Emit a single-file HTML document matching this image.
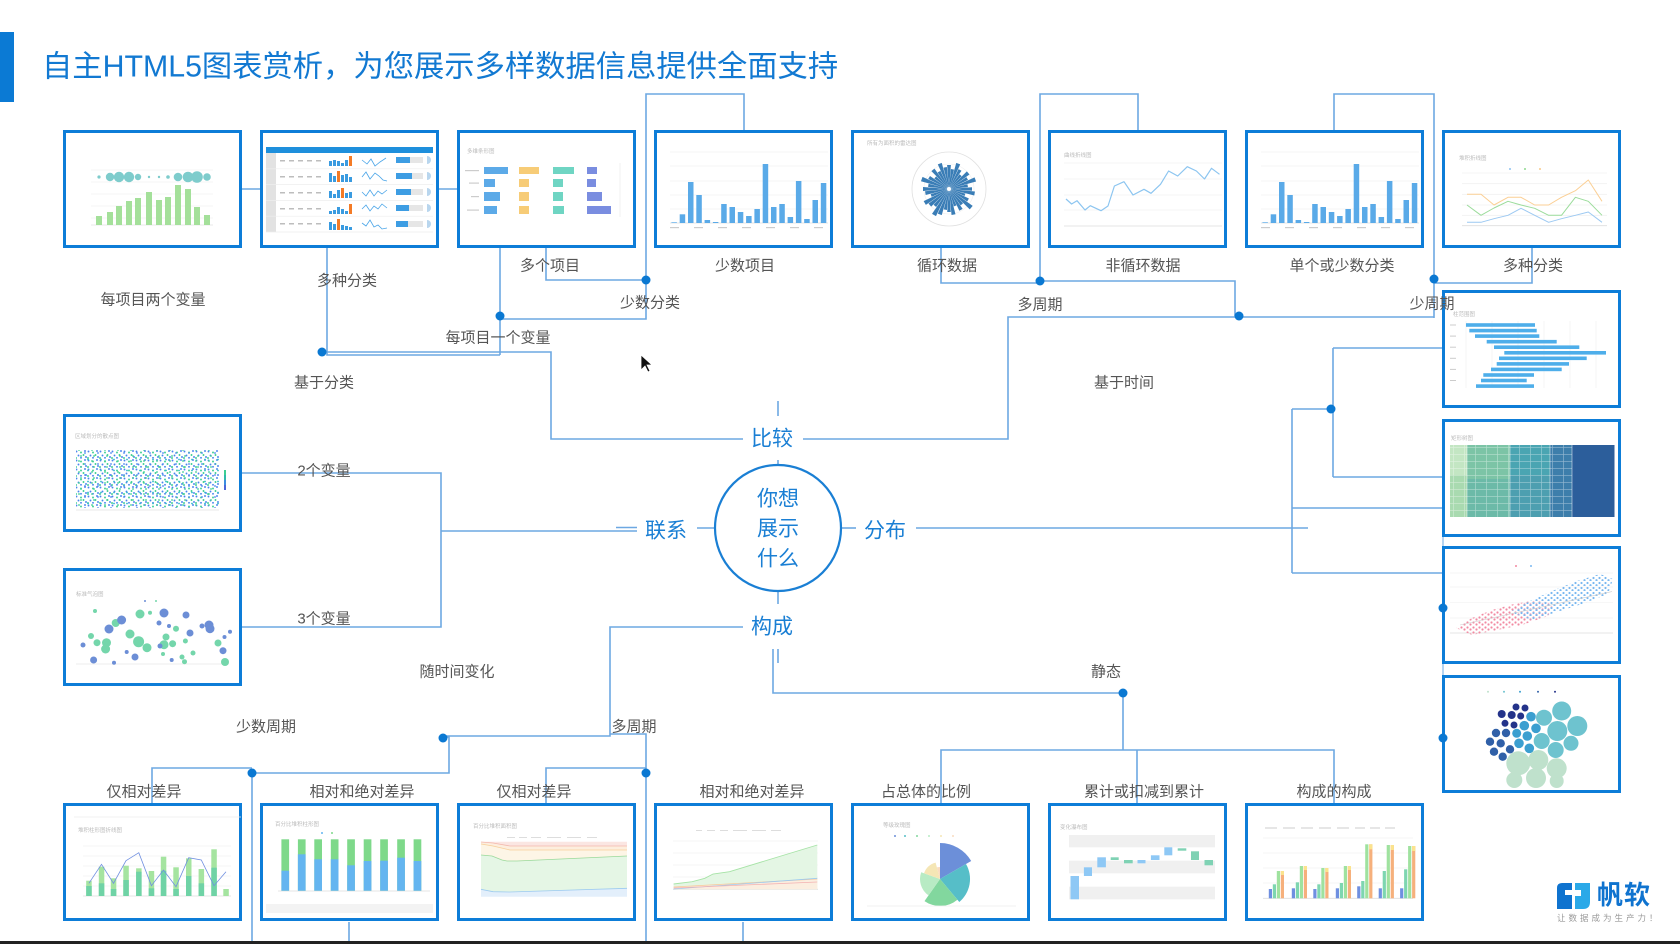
<!DOCTYPE html>
<html><head><meta charset="utf-8">
<style>
html,body{margin:0;padding:0;background:#fff;}
svg{display:block;}
text{font-family:"Liberation Sans","Noto Sans CJK SC",sans-serif;}
</style></head><body>
<svg width="1680" height="944" viewBox="0 0 1680 944" xmlns="http://www.w3.org/2000/svg">
<defs>
<pattern id="sc1" width="12" height="9" patternUnits="userSpaceOnUse">
<circle cx="1.5" cy="1.5" r="0.95" fill="#4a86ee"/><circle cx="6" cy="2.5" r="0.95" fill="#3dcf92"/><circle cx="10" cy="1" r="0.95" fill="#4a86ee"/><circle cx="3.5" cy="5.5" r="0.95" fill="#4a86ee"/><circle cx="8.5" cy="5" r="0.95" fill="#3dcf92"/><circle cx="1" cy="8" r="0.95" fill="#3dcf92"/><circle cx="6" cy="7.8" r="0.95" fill="#4a86ee"/><circle cx="11" cy="7" r="0.95" fill="#4a86ee"/>
</pattern>
<pattern id="sc2" width="13" height="11" patternUnits="userSpaceOnUse">
<circle cx="3" cy="3" r="0.9" fill="#3dcf92"/><circle cx="9" cy="6" r="0.9" fill="#4a86ee"/><circle cx="5" cy="9" r="0.9" fill="#3dcf92"/><circle cx="12" cy="1.5" r="0.9" fill="#2fb9c9"/>
</pattern>
<pattern id="pk" width="6" height="5" patternUnits="userSpaceOnUse">
<circle cx="1.5" cy="1.5" r="1.1" fill="#f28aa2"/><circle cx="4.5" cy="3.5" r="1.1" fill="#f28aa2"/>
</pattern>
<pattern id="bl" width="6" height="5" patternUnits="userSpaceOnUse">
<circle cx="1.5" cy="2" r="1.1" fill="#7ab8f0"/><circle cx="4.5" cy="4.2" r="1.1" fill="#7ab8f0"/>
</pattern>
<pattern id="tg" width="11" height="7" patternUnits="userSpaceOnUse">
<path d="M0,0.3H11M0.3,0V7" stroke="#ffffff" stroke-opacity="0.45" stroke-width="0.7" fill="none"/>
</pattern>
</defs>
<rect width="1680" height="944" fill="#fff"/>

<!-- Title -->
<rect x="0" y="32" width="14" height="70" fill="#0b7ad4"/>
<text x="42" y="67" font-size="30.3" fill="#1279d2" dominant-baseline="central">自主HTML5图表赏析，为您展示多样数据信息提供全面支持</text>

<!-- Connectors -->
<g fill="none" stroke="#6da8e2" stroke-width="1.6">
<path d="M242,189H260M439,189H457"/>
<path d="M327,248V355H500"/>
<path d="M500,248V355"/>
<path d="M546,248V280H646"/>
<path d="M744,130V94H646V319H500"/>
<path d="M322,352H551V439H743"/>
<path d="M941,248V283H1040"/>
<path d="M1138,130V94H1040V281H1235V316"/>
<path d="M803,439H1008V317H1434"/>
<path d="M1334,130V94H1434V318"/>
<path d="M1532,248V283H1434"/>
<path d="M778,401V416M778,460V465"/>
<path d="M715,528H697"/>
<path d="M441,531H637M616,527.5H637"/>
<path d="M841,528H856"/>
<path d="M916,528H1308"/>
<path d="M778,591V604"/>
<path d="M743,627H610V736H443"/>
<path d="M610,734H646V944"/>
<path d="M773,649V693H1123V750M778,649V663"/>
<path d="M941,803V750H1334V803M1137,750V803"/>
<path d="M242,473H441V627H242"/>
<path d="M443,737H449V773H252V944"/>
<path d="M152,803V768H252"/>
<path d="M546,803V768H646"/>
<path d="M349,922V944M743,922V944"/>
<path d="M1333,348V477M1333,348H1442M1333,477H1442"/>
<path d="M1292,409H1333M1292,409V573M1292,508H1442M1292,573H1442"/>
<path d="M1443,537V546M1443,663V675" stroke-width="1"/>
</g>
<g fill="#0a78d2">
<circle cx="646" cy="280" r="4.5"/><circle cx="500" cy="316" r="4.5"/><circle cx="322" cy="352" r="4.5"/>
<circle cx="1040" cy="281" r="4.5"/><circle cx="1239" cy="316" r="4.5"/><circle cx="1434" cy="279" r="4.5"/>
<circle cx="1123" cy="693" r="4.5"/><circle cx="443" cy="738" r="4.5"/><circle cx="252" cy="773" r="4.5"/>
<circle cx="646" cy="773" r="4.5"/><circle cx="1331" cy="409" r="4.5"/>
</g>

<!-- Center circle -->
<circle cx="778" cy="528" r="63" fill="#fff" stroke="#1a7fd4" stroke-width="2.2"/>
<g font-size="21" fill="#1a7fd4" text-anchor="middle" dominant-baseline="central">
<text x="778" y="499">你想</text><text x="778" y="529">展示</text><text x="778" y="559">什么</text>
<text x="772" y="439">比较</text><text x="666" y="531">联系</text><text x="885" y="531">分布</text><text x="772" y="627">构成</text>
</g>

<!-- ===== Thumbnails ===== -->
<g id="boxes">
<!-- T1 -->
<g transform="translate(63,130)">
<rect x="1.5" y="1.5" width="176" height="115" fill="#fff" stroke="#0d7dd8" stroke-width="3"/>
<g stroke="#f1f1f1" stroke-width="0.8"><path d="M28,40H150M28,52H150M28,64H150M28,76H150M28,88H150"/></g>
<path d="M28,95H150" stroke="#e0e0e0" stroke-width="0.8"/>
<g fill="#7ecccc"><circle cx="36" cy="47" r="1.6"/><circle cx="47" cy="47" r="4.2"/><circle cx="56" cy="47" r="5.2"/><circle cx="66" cy="47" r="5.2"/><circle cx="75" cy="47" r="3.2"/><circle cx="86" cy="47" r="1.2"/><circle cx="96" cy="47" r="1.2"/><circle cx="105" cy="47" r="1.8"/><circle cx="115" cy="47" r="4.3"/><circle cx="125" cy="47" r="5.3"/><circle cx="134" cy="47" r="5.8"/><circle cx="144" cy="47" r="3.8"/></g>
<g fill="#a4e09a"><rect x="33" y="86" width="6" height="9"/><rect x="44" y="82" width="6" height="13"/><rect x="53" y="76" width="6" height="19"/><rect x="63" y="71" width="6" height="24"/><rect x="72" y="68" width="6" height="27"/><rect x="83" y="62" width="6" height="33"/><rect x="93" y="70" width="6" height="25"/><rect x="102" y="67" width="6" height="28"/><rect x="112" y="55" width="6" height="40"/><rect x="122" y="59" width="6" height="36"/><rect x="131" y="77" width="6" height="18"/><rect x="141" y="85" width="6" height="10"/></g>
</g>
<!-- T2 table -->
<g transform="translate(260,130)">
<rect x="1.5" y="1.5" width="176" height="115" fill="#fff" stroke="#0d7dd8" stroke-width="3"/>
<rect x="6" y="17" width="167" height="6" fill="#1e8fdc"/>
<rect x="6" y="23" width="10" height="79" fill="#e2e2e2"/>
<g stroke="#eee" stroke-width="0.7"><path d="M6,38.8H173M6,54.6H173M6,70.4H173M6,86.2H173M6,102H173"/></g>
<g fill="#bdbdbd">
<path d="M20,30h5v1.5h-5zM29,30h5v1.5h-5zM38,30h5v1.5h-5zM47,30h5v1.5h-5zM56,30h5v1.5h-5zM20,46h5v1.5h-5zM29,46h5v1.5h-5zM38,46h5v1.5h-5zM47,46h5v1.5h-5zM56,46h5v1.5h-5zM20,62h5v1.5h-5zM29,62h5v1.5h-5zM38,62h5v1.5h-5zM47,62h5v1.5h-5zM56,62h5v1.5h-5zM20,78h5v1.5h-5zM29,78h5v1.5h-5zM38,78h5v1.5h-5zM47,78h5v1.5h-5zM56,78h5v1.5h-5zM20,93h5v1.5h-5zM29,93h5v1.5h-5zM38,93h5v1.5h-5zM47,93h5v1.5h-5zM56,93h5v1.5h-5z"/>
</g>
<g fill="#3a9be0">
<rect x="69" y="31" width="3" height="5"/><rect x="73" y="30" width="3" height="6"/><rect x="77" y="31" width="3" height="5"/><rect x="81" y="33" width="3" height="3"/><rect x="85" y="30" width="3" height="6"/>
<rect x="69" y="43" width="3" height="9"/><rect x="73" y="46" width="3" height="6"/><rect x="81" y="45" width="3" height="7"/><rect x="85" y="44" width="3" height="8"/><rect x="89" y="47" width="3" height="5"/>
<rect x="69" y="61" width="3" height="7"/><rect x="73" y="64" width="3" height="4"/><rect x="77" y="60" width="3" height="8"/><rect x="85" y="63" width="3" height="5"/><rect x="89" y="62" width="3" height="6"/>
<rect x="69" y="81" width="3" height="3"/><rect x="73" y="80" width="3" height="4"/><rect x="77" y="77" width="3" height="7"/><rect x="81" y="79" width="3" height="5"/><rect x="85" y="81" width="3" height="3"/>
<rect x="69" y="92" width="3" height="8"/><rect x="73" y="94" width="3" height="6"/><rect x="81" y="95" width="3" height="5"/><rect x="85" y="96" width="3" height="4"/><rect x="89" y="97" width="3" height="3"/>
</g>
<g fill="#f47b26"><rect x="89" y="26" width="3" height="10"/><rect x="77" y="41" width="3" height="11"/><rect x="81" y="58" width="3" height="10"/><rect x="89" y="74" width="3" height="10"/><rect x="77" y="89" width="3" height="11"/></g>
<g fill="none" stroke="#4aa5e8" stroke-width="0.8">
<polyline points="102,30 107,34 111,29 115,36 120,32 126,28"/>
<polyline points="102,47 106,42 110,49 115,43 119,46 123,50 127,51"/>
<polyline points="102,62 106,66 110,60 114,66 118,61 122,64 127,60"/>
<polyline points="102,79 106,75 110,81 114,76 118,79 122,74 127,78"/>
<polyline points="102,93 106,96 110,90 114,97 118,95 122,99 127,98"/>
</g>
<g fill="#e6e6e6"><rect x="136" y="27" width="27" height="6"/><rect x="136" y="43" width="27" height="6"/><rect x="136" y="59" width="27" height="6"/><rect x="136" y="75" width="27" height="6"/><rect x="136" y="91" width="27" height="6"/></g>
<g fill="#3d9de3"><rect x="136" y="27" width="14" height="6"/><rect x="136" y="43" width="16" height="6"/><rect x="136" y="59" width="15" height="6"/><rect x="136" y="75" width="13" height="6"/><rect x="136" y="91" width="12" height="6"/></g>
<g fill="#b9d6ee"><path d="M167,26a4,4 0 0 1 0,8z"/><path d="M167,42a4,4 0 0 1 0,8z"/><path d="M167,58a4,4 0 0 1 0,8z"/><path d="M167,74a4,4 0 0 1 0,8z"/><path d="M167,90a4,4 0 0 1 0,8z"/></g>
</g>
<!-- T3 -->
<g transform="translate(457,130)">
<rect x="1.5" y="1.5" width="176" height="115" fill="#fff" stroke="#0d7dd8" stroke-width="3"/>
<text x="10" y="22" font-size="5.5" fill="#bbb" dominant-baseline="central">多维条形图</text>
<path d="M163,33V87" stroke="#eee" stroke-width="0.8"/>
<g fill="#5caae8"><rect x="27" y="37" width="24" height="7"/><rect x="27" y="49" width="11" height="8"/><rect x="27" y="62" width="16" height="9"/><rect x="27" y="76" width="13" height="8"/></g>
<g fill="#f7cc77"><rect x="62" y="37" width="20" height="7"/><rect x="62" y="49" width="10" height="8"/><rect x="62" y="62" width="10" height="9"/><rect x="62" y="76" width="10" height="8"/></g>
<g fill="#6fd5c3"><rect x="96" y="37" width="21" height="7"/><rect x="96" y="49" width="10" height="8"/><rect x="96" y="62" width="10" height="9"/><rect x="96" y="76" width="11" height="8"/></g>
<g fill="#7a8de0"><rect x="130" y="37" width="10" height="7"/><rect x="130" y="49" width="9" height="8"/><rect x="130" y="62" width="15" height="9"/><rect x="130" y="76" width="24" height="8"/></g>
<g fill="#ccc"><rect x="8" y="40" width="14" height="1.2"/><rect x="12" y="52.5" width="10" height="1.2"/><rect x="14" y="66" width="8" height="1.2"/><rect x="10" y="79.5" width="12" height="1.2"/></g>
</g>
<!-- T4 & T7 bar charts -->
<g transform="translate(654,130)">
<rect x="1.5" y="1.5" width="176" height="115" fill="#fff" stroke="#0d7dd8" stroke-width="3"/>
<g stroke="#f1f1f1" stroke-width="0.8"><path d="M16,22H174M16,36H174M16,51H174M16,65H174M16,79H174"/></g>
<path d="M16,93H174" stroke="#ddd" stroke-width="0.8"/>
<g fill="#5aaae8"><rect x="17.4" y="92.3" width="5.5" height="0.7"/><rect x="25.7" y="84.3" width="5.5" height="8.7"/><rect x="34" y="52" width="5.5" height="41"/><rect x="42.3" y="65" width="5.5" height="28"/><rect x="50.6" y="90" width="5.5" height="3"/><rect x="58.9" y="92" width="5.5" height="1"/><rect x="67.2" y="74" width="5.5" height="19"/><rect x="75.5" y="77" width="5.5" height="16"/><rect x="83.8" y="82" width="5.5" height="11"/><rect x="92.1" y="86" width="5.5" height="7"/><rect x="100.4" y="79" width="5.5" height="14"/><rect x="108.7" y="34" width="5.5" height="59"/><rect x="117" y="77" width="5.5" height="16"/><rect x="125.3" y="74" width="5.5" height="19"/><rect x="133.6" y="87" width="5.5" height="6"/><rect x="141.9" y="51" width="5.5" height="42"/><rect x="150.2" y="89" width="5.5" height="4"/><rect x="158.5" y="70" width="5.5" height="23"/><rect x="166.8" y="53" width="5.5" height="40"/></g>
<g fill="#ccc"><rect x="16" y="97" width="9" height="1.2"/><rect x="40" y="97" width="9" height="1.2"/><rect x="64" y="97" width="9" height="1.2"/><rect x="88" y="97" width="9" height="1.2"/><rect x="112" y="97" width="9" height="1.2"/><rect x="136" y="97" width="9" height="1.2"/><rect x="160" y="97" width="9" height="1.2"/></g>
</g>
<g transform="translate(1245,130)">
<rect x="1.5" y="1.5" width="176" height="115" fill="#fff" stroke="#0d7dd8" stroke-width="3"/>
<g stroke="#f1f1f1" stroke-width="0.8"><path d="M16,22H174M16,36H174M16,51H174M16,65H174M16,79H174"/></g>
<path d="M16,93H174" stroke="#ddd" stroke-width="0.8"/>
<g fill="#5aaae8"><rect x="17.4" y="92.3" width="5.5" height="0.7"/><rect x="25.7" y="84.3" width="5.5" height="8.7"/><rect x="34" y="52" width="5.5" height="41"/><rect x="42.3" y="65" width="5.5" height="28"/><rect x="50.6" y="90" width="5.5" height="3"/><rect x="58.9" y="92" width="5.5" height="1"/><rect x="67.2" y="74" width="5.5" height="19"/><rect x="75.5" y="77" width="5.5" height="16"/><rect x="83.8" y="82" width="5.5" height="11"/><rect x="92.1" y="86" width="5.5" height="7"/><rect x="100.4" y="79" width="5.5" height="14"/><rect x="108.7" y="34" width="5.5" height="59"/><rect x="117" y="77" width="5.5" height="16"/><rect x="125.3" y="74" width="5.5" height="19"/><rect x="133.6" y="87" width="5.5" height="6"/><rect x="141.9" y="51" width="5.5" height="42"/><rect x="150.2" y="89" width="5.5" height="4"/><rect x="158.5" y="70" width="5.5" height="23"/><rect x="166.8" y="53" width="5.5" height="40"/></g>
<g fill="#ccc"><rect x="16" y="97" width="9" height="1.2"/><rect x="40" y="97" width="9" height="1.2"/><rect x="64" y="97" width="9" height="1.2"/><rect x="88" y="97" width="9" height="1.2"/><rect x="112" y="97" width="9" height="1.2"/><rect x="136" y="97" width="9" height="1.2"/><rect x="160" y="97" width="9" height="1.2"/></g>
</g>
<!-- T5 polar -->
<g transform="translate(851,130)">
<rect x="1.5" y="1.5" width="176" height="115" fill="#fff" stroke="#0d7dd8" stroke-width="3"/>
<text x="16" y="14" font-size="5.5" fill="#bbb" dominant-baseline="central">所有为面积的雷达图</text>
<g transform="translate(98,59)">
<circle r="37" fill="none" stroke="#e0e0e0" stroke-width="0.8"/>
<circle r="25" fill="none" stroke="#eee" stroke-width="0.6"/>
<g fill="#3a7db6">
<polygon points="0,0 -1.9,-24 1.9,-24" transform="rotate(0)"/>
<polygon points="0,0 -1.6,-20 1.6,-20" transform="rotate(10)"/>
<polygon points="0,0 -2.1,-27 2.1,-27" transform="rotate(20)"/>
<polygon points="0,0 -1.7,-22 1.7,-22" transform="rotate(30)"/>
<polygon points="0,0 -1.4,-18 1.4,-18" transform="rotate(40)"/>
<polygon points="0,0 -2,-25 2,-25" transform="rotate(50)"/>
<polygon points="0,0 -1.6,-21 1.6,-21" transform="rotate(60)"/>
<polygon points="0,0 -2.2,-28 2.2,-28" transform="rotate(70)"/>
<polygon points="0,0 -1.5,-19 1.5,-19" transform="rotate(80)"/>
<polygon points="0,0 -1.8,-23 1.8,-23" transform="rotate(90)"/>
<polygon points="0,0 -2,-26 2,-26" transform="rotate(100)"/>
<polygon points="0,0 -1.3,-17 1.3,-17" transform="rotate(110)"/>
<polygon points="0,0 -1.7,-22 1.7,-22" transform="rotate(120)"/>
<polygon points="0,0 -2.3,-29 2.3,-29" transform="rotate(130)"/>
<polygon points="0,0 -1.6,-20 1.6,-20" transform="rotate(140)"/>
<polygon points="0,0 -1.9,-24 1.9,-24" transform="rotate(150)"/>
<polygon points="0,0 -1.4,-18 1.4,-18" transform="rotate(160)"/>
<polygon points="0,0 -2,-26 2,-26" transform="rotate(170)"/>
<polygon points="0,0 -1.8,-23 1.8,-23" transform="rotate(180)"/>
<polygon points="0,0 -1.6,-21 1.6,-21" transform="rotate(190)"/>
<polygon points="0,0 -2.1,-27 2.1,-27" transform="rotate(200)"/>
<polygon points="0,0 -2.3,-30 2.3,-30" transform="rotate(210)"/>
<polygon points="0,0 -1.7,-22 1.7,-22" transform="rotate(220)"/>
<polygon points="0,0 -2,-25 2,-25" transform="rotate(230)"/>
<polygon points="0,0 -2.2,-28 2.2,-28" transform="rotate(240)"/>
<polygon points="0,0 -1.5,-19 1.5,-19" transform="rotate(250)"/>
<polygon points="0,0 -1.9,-24 1.9,-24" transform="rotate(260)"/>
<polygon points="0,0 -2,-26 2,-26" transform="rotate(270)"/>
<polygon points="0,0 -1.6,-21 1.6,-21" transform="rotate(280)"/>
<polygon points="0,0 -2.3,-29 2.3,-29" transform="rotate(290)"/>
<polygon points="0,0 -1.8,-23 1.8,-23" transform="rotate(300)"/>
<polygon points="0,0 -1.4,-18 1.4,-18" transform="rotate(310)"/>
<polygon points="0,0 -2,-25 2,-25" transform="rotate(320)"/>
<polygon points="0,0 -1.6,-20 1.6,-20" transform="rotate(330)"/>
<polygon points="0,0 -2.1,-27 2.1,-27" transform="rotate(340)"/>
<polygon points="0,0 -1.7,-22 1.7,-22" transform="rotate(350)"/>
</g>
<circle r="2" fill="#fff"/>
</g>
</g>
<!-- T6 line -->
<g transform="translate(1048,130)">
<rect x="1.5" y="1.5" width="176" height="115" fill="#fff" stroke="#0d7dd8" stroke-width="3"/>
<text x="16" y="26" font-size="5.5" fill="#bbb" dominant-baseline="central">曲线折线图</text>
<g stroke="#f1f1f1" stroke-width="0.8"><path d="M16,33H174M16,49H174M16,65H174M16,80H174"/></g>
<path d="M16,96H174" stroke="#ddd" stroke-width="0.8"/>
<polyline fill="none" stroke="#8cc5f0" stroke-width="1.2" stroke-linejoin="round" points="18,69 23.6,74 29,70.7 37,80 42.3,75.7 53,80.7 60,76 66.4,56 76,51.7 85,65 96,59.3 103,63.3 112.5,54.3 120.6,41 129.7,46 139.3,36.7 148.4,41 156.5,49 163.5,38.3 171.5,44.3"/>
</g>
<!-- T8 multi-line -->
<g transform="translate(1442,130)">
<rect x="1.5" y="1.5" width="176" height="115" fill="#fff" stroke="#0d7dd8" stroke-width="3"/>
<text x="17" y="29" font-size="5.5" fill="#bbb" dominant-baseline="central">堆积折线图</text>
<g stroke="#f1f1f1" stroke-width="0.8"><path d="M20,43H165M20,53.7H165M20,64.3H165M20,75H165M20,85.3H165"/></g>
<path d="M20,95.7H165" stroke="#ddd" stroke-width="0.8"/>
<g><circle cx="68" cy="39" r="1" fill="#8cc2f0"/><circle cx="83" cy="39" r="1" fill="#8fd98f"/><circle cx="98" cy="39" r="1" fill="#f8c98a"/></g>
<g fill="none" stroke-width="1" stroke-linejoin="round">
<polyline stroke="#fbcf94" points="25,64.3 39,64.3 52,75 66,67.3 79,67.3 92.7,75 106.6,75 119.5,67.3 133.4,60.7 146.3,50 160,71.3"/>
<polyline stroke="#9bdc9b" points="25,75 39,85.3 52,78 66,71.3 79,75 92.7,78.3 106.6,85.3 119.5,85.3 133.4,67.3 146.3,71.3 160,85.3"/>
<polyline stroke="#9cc9f2" points="25,92.3 39,92.3 52,88.7 66,85.3 79,78.3 92.7,85.3 106.6,92.3 119.5,88.7 133.4,85.3 146.3,82 160,92.3"/>
</g>
</g>
<!-- L1 scatter -->
<g transform="translate(63,414)">
<rect x="1.5" y="1.5" width="176" height="115" fill="#fff" stroke="#0d7dd8" stroke-width="3"/>
<text x="12" y="23" font-size="5.5" fill="#bbb" dominant-baseline="central">区域划分的散点图</text>
<rect x="13" y="36" width="143" height="58" fill="url(#sc1)"/>
<rect x="13" y="36" width="143" height="58" fill="url(#sc2)"/>
<path d="M13,96H156" stroke="#e2e2e2" stroke-width="0.8"/>
<rect x="161" y="56" width="2" height="5" fill="#3dcf92"/><rect x="161" y="61" width="2" height="5" fill="#2fb9a9"/><rect x="161" y="66" width="2" height="5" fill="#3b8de0"/><rect x="161" y="71" width="2" height="5" fill="#4a66d8"/>
</g>
<!-- L2 bubble -->
<g transform="translate(63,568)">
<rect x="1.5" y="1.5" width="176" height="115" fill="#fff" stroke="#0d7dd8" stroke-width="3"/>
<text x="13" y="27" font-size="5.5" fill="#bbb" dominant-baseline="central">标准气泡图</text>
<circle cx="82" cy="33" r="1" fill="#6c8ed6"/><circle cx="93" cy="33" r="1" fill="#74d6ab"/>
<path d="M13,96H166" stroke="#e6e6e6" stroke-width="0.8"/>
<g fill="#74d6ab"><circle cx="32" cy="43" r="2"/><circle cx="52.7" cy="55" r="4"/><circle cx="77" cy="46" r="4.5"/><circle cx="87" cy="44.7" r="2"/><circle cx="113" cy="60.7" r="3"/><circle cx="67" cy="66" r="4.5"/><circle cx="28" cy="68" r="3"/><circle cx="34" cy="74.7" r="3.5"/><circle cx="43.5" cy="74.7" r="4.5"/><circle cx="42.6" cy="81" r="4.5"/><circle cx="75.6" cy="73.7" r="5.5"/><circle cx="84" cy="79.7" r="4.5"/><circle cx="103" cy="69" r="3.5"/><circle cx="101" cy="76.7" r="4.5"/><circle cx="109.6" cy="75.7" r="3.5"/><circle cx="122.4" cy="73" r="2.5"/><circle cx="155" cy="75" r="3.5"/><circle cx="130" cy="85" r="2.5"/><circle cx="119" cy="89" r="2.5"/><circle cx="121.5" cy="93.7" r="2.5"/><circle cx="100" cy="86" r="2"/><circle cx="162" cy="94" r="4"/></g>
<g fill="#6c8ed6"><circle cx="58.6" cy="52" r="4.5"/><circle cx="46" cy="61" r="4.5"/><circle cx="101" cy="45" r="4.5"/><circle cx="123" cy="47" r="3.5"/><circle cx="96" cy="55" r="2.5"/><circle cx="106" cy="58" r="2"/><circle cx="139" cy="58" r="2.5"/><circle cx="146" cy="57" r="4.5"/><circle cx="147" cy="60.7" r="4.5"/><circle cx="20" cy="77" r="2.5"/><circle cx="97" cy="78" r="2.5"/><circle cx="127" cy="65" r="3.5"/><circle cx="161.5" cy="69" r="2"/><circle cx="167" cy="63.7" r="2"/><circle cx="160" cy="82.7" r="3.5"/><circle cx="108.7" cy="92" r="2"/><circle cx="72" cy="89" r="3.5"/><circle cx="63.7" cy="84" r="2"/><circle cx="30.6" cy="92" r="3.5"/><circle cx="51" cy="94.7" r="2"/></g>
</g>
<!-- R1 range bars -->
<g transform="translate(1442,290)">
<rect x="1.5" y="1.5" width="176" height="115" fill="#fff" stroke="#0d7dd8" stroke-width="3"/>
<text x="11" y="25" font-size="5.5" fill="#bbb" dominant-baseline="central">柱范围图</text>
<g stroke="#f2f2f2" stroke-width="0.7"><path d="M24,31V98M50,31V98M76,31V98M102,31V98M128,31V98M154,31V98"/></g>
<g fill="#4eaeea"><rect x="24" y="33.2" width="69" height="3.6"/><rect x="27.3" y="38.8" width="67.4" height="3.6"/><rect x="33" y="44.3" width="64.3" height="3.6"/><rect x="44.7" y="49.9" width="70" height="3.6"/><rect x="52" y="55.4" width="85.3" height="3.6"/><rect x="62.3" y="61" width="101.7" height="3.6"/><rect x="57" y="66.5" width="87.7" height="3.6"/><rect x="54.7" y="72.1" width="72.3" height="3.6"/><rect x="49" y="77.6" width="70.7" height="3.6"/><rect x="41.3" y="83.2" width="50.7" height="3.6"/><rect x="39" y="88.7" width="45.7" height="3.6"/><rect x="34" y="94.3" width="58" height="3.6"/></g>
<g fill="#ccc"><rect x="8" y="34.5" width="6" height="1"/><rect x="8" y="45.6" width="6" height="1"/><rect x="8" y="56.7" width="6" height="1"/><rect x="8" y="67.8" width="6" height="1"/><rect x="8" y="78.9" width="6" height="1"/><rect x="8" y="90" width="6" height="1"/></g>
</g>
<!-- R2 treemap -->
<g transform="translate(1442,419)">
<rect x="1.5" y="1.5" width="176" height="115" fill="#fff" stroke="#0d7dd8" stroke-width="3"/>
<text x="9" y="20" font-size="5.5" fill="#bbb" dominant-baseline="central">矩形树图</text>
<rect x="8" y="26" width="17" height="72" fill="#a9dab0"/>
<rect x="8" y="26" width="17" height="30" fill="#c3e6c3"/>
<rect x="25" y="26" width="43" height="72" fill="#7cc4a6"/>
<rect x="25" y="60" width="43" height="38" fill="#6cbaa8"/>
<rect x="68" y="26" width="40" height="72" fill="#4d9fb0"/>
<rect x="68" y="26" width="40" height="30" fill="#4aa5b2"/>
<rect x="108" y="26" width="22" height="72" fill="#3d7eab"/>
<rect x="130" y="26" width="42.5" height="72" fill="#2c5e9b"/>
<rect x="8" y="26" width="122" height="72" fill="url(#tg)"/>
<path d="M25,26V98M68,26V98M108,26V98M130,26V98" stroke="#fff" stroke-opacity="0.6" stroke-width="0.8"/>
</g>
<!-- R3 scatter -->
<g transform="translate(1442,546)">
<rect x="1.5" y="1.5" width="176" height="115" fill="#fff" stroke="#0d7dd8" stroke-width="3"/>
<circle cx="74" cy="20" r="1" fill="#f28aa2"/><circle cx="89" cy="20" r="1" fill="#7ab8f0"/>
<g stroke="#f2f2f2" stroke-width="0.7"><path d="M8,27H171M8,41H171M8,56.7H171M8,72H171"/></g>
<path d="M8,87H171" stroke="#ddd" stroke-width="0.8"/>
<polygon points="14,82 30,72 50,64 72,58 95,54 112,58 106,70 80,79 55,84 30,89" fill="url(#pk)"/>
<polygon points="68,66 88,55 110,45 135,35 158,28 171,33 166,48 140,58 115,66 90,74" fill="url(#bl)"/>
<path d="M18,79L170,45.6" stroke="#ccc" stroke-width="0.6"/>
</g>
<!-- R4 bubbles -->
<g transform="translate(1442,675)">
<rect x="1.5" y="1.5" width="176" height="115" fill="#fff" stroke="#0d7dd8" stroke-width="3"/>
<g><circle cx="46" cy="16.7" r="1" fill="#bfe1cc"/><circle cx="62" cy="16.7" r="1" fill="#6ec3cf"/><circle cx="78" cy="16.7" r="1" fill="#3b9fd0"/><circle cx="96" cy="16.7" r="1" fill="#3060a8"/><circle cx="113" cy="16.7" r="1" fill="#24338a"/></g>
<g fill="#bfe1cc"><circle cx="76.3" cy="88.3" r="12"/><circle cx="96.3" cy="85" r="10"/><circle cx="114.7" cy="93.3" r="10"/><circle cx="72.3" cy="105" r="8"/><circle cx="94" cy="103" r="10"/><circle cx="114.7" cy="106" r="7"/></g>
<g fill="#6ec3cf"><circle cx="102" cy="42.7" r="8"/><circle cx="119.7" cy="36" r="9.5"/><circle cx="135.3" cy="51" r="10"/><circle cx="115.3" cy="56" r="10"/><circle cx="99.7" cy="66" r="8"/><circle cx="129" cy="68.3" r="7.5"/><circle cx="113.7" cy="75" r="8"/></g>
<g fill="#3b9fd0"><circle cx="89" cy="41.7" r="4.8"/><circle cx="82.3" cy="50.7" r="4.8"/><circle cx="94" cy="53.3" r="4.8"/><circle cx="74.7" cy="58.3" r="4.5"/><circle cx="85.3" cy="61" r="4.8"/><circle cx="77" cy="68.3" r="4.8"/><circle cx="87.3" cy="73.3" r="4.8"/></g>
<g fill="#3060a8"><circle cx="54" cy="58" r="4.2"/><circle cx="64" cy="58" r="4.2"/><circle cx="48" cy="66.7" r="4.2"/><circle cx="58.7" cy="68.3" r="4.2"/><circle cx="52" cy="76.7" r="4.2"/><circle cx="68" cy="74.3" r="4.2"/><circle cx="60.7" cy="81.7" r="4.2"/></g>
<g fill="#24338a"><circle cx="74" cy="32" r="3.5"/><circle cx="83" cy="33" r="3.5"/><circle cx="59.7" cy="39" r="4"/><circle cx="69.7" cy="40" r="4"/><circle cx="78.7" cy="41" r="3.5"/><circle cx="63" cy="48.3" r="3.5"/><circle cx="72" cy="50" r="3.5"/></g>
</g>
<!-- B1 -->
<g transform="translate(63,803)">
<rect x="1.5" y="1.5" width="176" height="115" fill="#fff" stroke="#0d7dd8" stroke-width="3"/>
<path d="M11,14H178" stroke="#eee" stroke-width="0.8"/>
<text x="15" y="28" font-size="5.5" fill="#bbb" dominant-baseline="central">堆积柱形图折线图</text>
<g stroke="#f2f2f2" stroke-width="0.7"><path d="M20,43H168M20,53H168M20,63H168M20,73H168M20,83H168"/></g>
<path d="M20,93H168" stroke="#ddd" stroke-width="0.8"/>
<g fill="#a5e4a0"><rect x="23.2" y="77.7" width="5.5" height="15.3"/><rect x="35.8" y="63.7" width="5.5" height="29.3"/><rect x="47.8" y="75.3" width="5.5" height="17.7"/><rect x="60.3" y="62.7" width="5.5" height="30.3"/><rect x="73.1" y="65.3" width="5.5" height="27.7"/><rect x="85.7" y="68" width="5.5" height="25"/><rect x="97.8" y="53.7" width="5.5" height="39.3"/><rect x="110.3" y="64.3" width="5.5" height="28.7"/><rect x="123" y="55.3" width="5.5" height="37.7"/><rect x="135.6" y="66" width="5.5" height="27"/><rect x="148.3" y="46.3" width="5.5" height="46.7"/><rect x="160.3" y="86" width="5.5" height="7"/></g>
<g fill="#6fd3a6"><rect x="23.2" y="83" width="5.5" height="10"/><rect x="35.8" y="80.3" width="5.5" height="12.7"/><rect x="47.8" y="86" width="5.5" height="7"/><rect x="60.3" y="77" width="5.5" height="16"/><rect x="73.1" y="68.7" width="5.5" height="24.3"/><rect x="85.7" y="85.3" width="5.5" height="7.7"/><rect x="97.8" y="67.7" width="5.5" height="25.3"/><rect x="110.3" y="86" width="5.5" height="7"/><rect x="123" y="73" width="5.5" height="20"/><rect x="135.6" y="80.3" width="5.5" height="12.7"/><rect x="148.3" y="64.7" width="5.5" height="28.3"/></g>
<polyline fill="none" stroke="#6f8fe0" stroke-width="0.8" points="25.9,80.3 38.5,61.3 50.5,80.3 63,57.7 75.8,49.7 88.4,82.7 100.5,67 113,83.7 125.7,54.7 138.3,57 151,82.7 163,68.7"/>
</g>
<!-- B2 -->
<g transform="translate(260,803)">
<rect x="1.5" y="1.5" width="176" height="115" fill="#fff" stroke="#0d7dd8" stroke-width="3"/>
<text x="15" y="22" font-size="5.5" fill="#bbb" dominant-baseline="central">百分比堆积柱形图</text>
<circle cx="62" cy="30" r="1" fill="#64b5f0"/><circle cx="72" cy="30" r="1" fill="#7ed98a"/>
<path d="M18,88H170" stroke="#ddd" stroke-width="0.8"/>
<g fill="#7ed98a"><rect x="21.4" y="36.3" width="7.7" height="51.4"/><rect x="37.9" y="36.3" width="7.7" height="51.4"/><rect x="54.3" y="36.3" width="7.7" height="51.4"/><rect x="70.8" y="36.3" width="7.7" height="51.4"/><rect x="87.2" y="36.3" width="7.7" height="51.4"/><rect x="103.7" y="36.3" width="7.7" height="51.4"/><rect x="120.2" y="36.3" width="7.7" height="51.4"/><rect x="137.2" y="36.3" width="7.7" height="51.4"/><rect x="153.6" y="36.3" width="7.7" height="51.4"/></g>
<g fill="#64b5f0"><rect x="21.4" y="67.7" width="7.7" height="20"/><rect x="37.9" y="51.3" width="7.7" height="36.4"/><rect x="54.3" y="56.3" width="7.7" height="31.4"/><rect x="70.8" y="56.3" width="7.7" height="31.4"/><rect x="87.2" y="62.3" width="7.7" height="25.4"/><rect x="103.7" y="58" width="7.7" height="29.7"/><rect x="120.2" y="57.7" width="7.7" height="30"/><rect x="137.2" y="54.7" width="7.7" height="33"/><rect x="153.6" y="58" width="7.7" height="29.7"/></g>
<rect x="6" y="101" width="167" height="9" fill="#f3f3f3"/>
</g>
<!-- B3 -->
<g transform="translate(457,803)">
<rect x="1.5" y="1.5" width="176" height="115" fill="#fff" stroke="#0d7dd8" stroke-width="3"/>
<text x="16" y="24" font-size="5.5" fill="#bbb" dominant-baseline="central">百分比堆积面积图</text>
<g fill="#ddd"><rect x="50" y="34" width="8" height="1"/><rect x="62" y="34" width="8" height="1"/><rect x="74" y="34" width="10" height="1"/><rect x="90" y="34" width="14" height="1"/><rect x="110" y="34" width="14" height="1"/><rect x="130" y="34" width="10" height="1"/></g>
<polygon points="24,38.7 170,38.7 170,43 53,43 36,40 24,39" fill="#fbe6e2"/>
<polygon points="24,39 36,40 53,43 170,43 170,47 53,47 36,43 24,41" fill="#fdeede"/>
<polygon points="24,41 36,43 53,47 170,47 170,53 60,58 50,58 45,57 35,53 24,52" fill="#fdf5e6"/>
<polygon points="24,52 35,53 45,57 50,58 60,58 170,53 170,85.3 53,89 36,88.7 24,86.3" fill="#e5f6e5"/>
<polygon points="24,86.3 36,88.7 53,89 170,85.3 170,93.7 24,93.7" fill="#e3effb"/>
<g fill="none" stroke-width="0.8"><polyline stroke="#f3b8ae" points="24,39 36,40 53,43 170,43"/><polyline stroke="#f7cf9a" points="24,41 36,43 53,47 170,47"/><polyline stroke="#9ad99a" points="24,52 35,53 45,57 50,58 60,58 170,53"/><polyline stroke="#9ccaf0" points="24,86.3 36,88.7 53,89 170,85.3"/></g>
</g>
<!-- B4 -->
<g transform="translate(654,803)">
<rect x="1.5" y="1.5" width="176" height="115" fill="#fff" stroke="#0d7dd8" stroke-width="3"/>
<g fill="#ddd"><rect x="42" y="27" width="6" height="1"/><rect x="53" y="27" width="8" height="1"/><rect x="66" y="27" width="8" height="1"/><rect x="79" y="27" width="14" height="1"/><rect x="98" y="27" width="14" height="1"/><rect x="117" y="27" width="10" height="1"/></g>
<g stroke="#f3f3f3" stroke-width="0.7"><path d="M19,38H164M19,50H164M19,62H164M19,74H164"/></g>
<path d="M19,86.3H164" stroke="#ddd" stroke-width="0.8"/>
<polygon points="19.6,81 38.2,78.7 50.8,75.3 59,71 75.5,68.7 113.9,57 163.3,42 163.3,86.3 19.6,86.3" fill="#e4f6e4"/>
<polyline fill="none" stroke="#a6e3a6" stroke-width="0.9" points="19.6,81 38.2,78.7 50.8,75.3 59,71 75.5,68.7 113.9,57 163.3,42"/>
<polygon points="19.6,84 163.3,76 163.3,86.3 19.6,86.3" fill="#fbeee0"/>
<g fill="none" stroke-width="0.8"><path d="M19.6,84L163.3,76" stroke="#f7c99a"/><path d="M19.6,86L163.3,75.3" stroke="#9ccaf0"/><path d="M19.6,85L163.3,79" stroke="#f3b3b3"/></g>
</g>
<!-- B5 pie -->
<g transform="translate(851,803)">
<rect x="1.5" y="1.5" width="176" height="115" fill="#fff" stroke="#0d7dd8" stroke-width="3"/>
<text x="32" y="23" font-size="5.5" fill="#bbb" dominant-baseline="central">等级玫瑰图</text>
<g><circle cx="44" cy="33" r="1" fill="#6c8fd9"/><circle cx="54" cy="33" r="1" fill="#56bec8"/><circle cx="66" cy="33" r="1" fill="#82d79e"/><circle cx="78" cy="33" r="1" fill="#b8ebc4"/><circle cx="90" cy="33" r="1" fill="#f5e6b5"/><circle cx="102" cy="33" r="1" fill="#f9dcc0"/></g>
<path d="M89,76L89,40A36,36 0 0 1 120.2,58Z" fill="#6c8fd9"/>
<path d="M89,76L115,61A30,30 0 0 1 108.3,99Z" fill="#56bec8"/>
<path d="M89,76L106.4,96.7A27,27 0 0 1 73.5,98.1Z" fill="#82d79e"/>
<path d="M89,76L77.5,92.4A20,20 0 0 1 70.2,69.2Z" fill="#b8ebc4"/>
<path d="M89,76L73,70.2A17,17 0 0 1 84.6,59.6Z" fill="#f5e6b5"/>
<path d="M89,76L85.9,64.4A12,12 0 0 1 89,64Z" fill="#f9dcc0"/>
<path d="M16,103H165" stroke="#eee" stroke-width="0.7"/>
</g>
<!-- B6 waterfall -->
<g transform="translate(1048,803)">
<rect x="1.5" y="1.5" width="176" height="115" fill="#fff" stroke="#0d7dd8" stroke-width="3"/>
<text x="12" y="25" font-size="5.5" fill="#bbb" dominant-baseline="central">变化瀑布图</text>
<g fill="#f0f0f0"><rect x="21" y="32" width="146" height="12.3"/><rect x="21" y="57.7" width="146" height="12.6"/><rect x="21" y="83.7" width="146" height="12.6"/></g>
<g fill="#8ec8f5"><rect x="22.5" y="73" width="8.5" height="23.3"/><rect x="35.9" y="64.3" width="8.1" height="8.7"/><rect x="49.3" y="54.3" width="8.6" height="10"/><rect x="89.5" y="57" width="8" height="3.3"/><rect x="102.9" y="52.3" width="8.6" height="4.7"/><rect x="116.3" y="44.3" width="8" height="8"/></g>
<g fill="#7fd2b4"><rect x="62.7" y="54.3" width="8" height="2.7"/><rect x="76" y="57" width="8.7" height="3.3"/><rect x="129.7" y="45.3" width="8.6" height="2.4"/><rect x="143" y="48.3" width="8" height="8.7"/><rect x="156.5" y="57" width="8.5" height="5.3"/></g>
</g>
<!-- B7 grouped -->
<g transform="translate(1245,803)">
<rect x="1.5" y="1.5" width="176" height="115" fill="#fff" stroke="#0d7dd8" stroke-width="3"/>
<g fill="#ccc"><rect x="20" y="24.5" width="12" height="1"/><rect x="38" y="24.5" width="12" height="1"/><rect x="56" y="24.5" width="12" height="1"/><rect x="74" y="24.5" width="12" height="1"/><rect x="92" y="24.5" width="12" height="1"/><rect x="110" y="24.5" width="10" height="1"/><rect x="125" y="24.5" width="10" height="1"/><rect x="140" y="24.5" width="10" height="1"/></g>
<g stroke="#f3f3f3" stroke-width="0.7"><path d="M18,35H168M18,50H168M18,65H168M18,80H168"/></g>
<path d="M18,95.3H168" stroke="#ddd" stroke-width="0.8"/>
<g fill="#6f8fe0"><rect x="23.8" y="86" width="3.2" height="9.3"/><rect x="46.8" y="85.3" width="3.2" height="10"/><rect x="68.3" y="86" width="3.2" height="9.3"/><rect x="90.8" y="85.3" width="3.2" height="10"/><rect x="112.2" y="83.3" width="3.2" height="12"/><rect x="133.7" y="85.3" width="3.2" height="10"/><rect x="155.1" y="85.3" width="3.2" height="10"/></g>
<g fill="#7ed6b0"><rect x="27.8" y="81.3" width="3.2" height="14"/><rect x="50.8" y="79.3" width="3.2" height="16"/><rect x="72.3" y="81.3" width="3.2" height="14"/><rect x="94.8" y="80" width="3.2" height="15.3"/><rect x="116.2" y="78" width="3.2" height="17.3"/><rect x="137.7" y="68" width="3.2" height="27.3"/><rect x="159.1" y="66.3" width="3.2" height="29"/></g>
<g fill="#9fe29f"><rect x="31.8" y="68" width="3.2" height="27.3"/><rect x="54.8" y="63" width="3.2" height="32.3"/><rect x="76.3" y="65" width="3.2" height="30.3"/><rect x="98.8" y="63" width="3.2" height="32.3"/><rect x="120.2" y="41.3" width="3.2" height="54"/><rect x="141.7" y="42" width="3.2" height="53.3"/><rect x="163.1" y="43" width="3.2" height="52.3"/></g>
<g fill="#f6b07c"><rect x="35.8" y="68" width="3.2" height="27.3"/><rect x="58.8" y="63" width="3.2" height="32.3"/><rect x="80.3" y="65" width="3.2" height="30.3"/><rect x="102.8" y="63" width="3.2" height="32.3"/><rect x="124.2" y="41.3" width="3.2" height="54"/><rect x="145.7" y="42" width="3.2" height="53.3"/><rect x="167.1" y="43" width="3.2" height="52.3"/></g>
<g fill="#fbe38d"><rect x="35.8" y="68" width="3.2" height="4"/><rect x="58.8" y="63" width="3.2" height="4"/><rect x="80.3" y="65" width="3.2" height="4"/><rect x="102.8" y="63" width="3.2" height="4"/><rect x="124.2" y="41.3" width="3.2" height="5"/><rect x="145.7" y="42" width="3.2" height="5"/><rect x="167.1" y="43" width="3.2" height="5"/></g>
</g>
</g>

<!-- dots on right column edge -->
<g fill="#0a78d2"><circle cx="1443" cy="608" r="4.5"/><circle cx="1443" cy="738" r="4.5"/></g>

<!-- Gray labels (drawn above boxes) -->
<g font-size="15" fill="#555" text-anchor="middle" dominant-baseline="central">
<text x="153" y="300">每项目两个变量</text>
<text x="347" y="281">多种分类</text>
<text x="550" y="266">多个项目</text>
<text x="745" y="266">少数项目</text>
<text x="650" y="303">少数分类</text>
<text x="498" y="338">每项目一个变量</text>
<text x="324" y="383">基于分类</text>
<text x="947" y="266">循环数据</text>
<text x="1143" y="266">非循环数据</text>
<text x="1342" y="266">单个或少数分类</text>
<text x="1533" y="266">多种分类</text>
<text x="1040" y="305">多周期</text>
<text x="1432" y="304">少周期</text>
<text x="1124" y="383">基于时间</text>
<text x="324" y="471">2个变量</text>
<text x="324" y="619">3个变量</text>
<text x="457" y="672">随时间变化</text>
<text x="1106" y="672">静态</text>
<text x="266" y="727">少数周期</text>
<text x="634" y="727">多周期</text>
<text x="144" y="792">仅相对差异</text>
<text x="362" y="792">相对和绝对差异</text>
<text x="534" y="792">仅相对差异</text>
<text x="752" y="792">相对和绝对差异</text>
<text x="926" y="792">占总体的比例</text>
<text x="1144" y="792">累计或扣减到累计</text>
<text x="1334" y="792">构成的构成</text>
</g>

<!-- cursor -->
<polygon points="641,355 641,370 645,366 648,372 650,371 647,365 652,365" fill="#111" stroke="#fff" stroke-width="0.8"/>

<!-- Logo -->
<path d="M1557,888Q1557,883 1562,883H1572V890H1565V895H1572V909H1557Z" fill="#0f73cf"/>
<path d="M1575,883H1590V902Q1590,909 1583,909H1575V896H1581V890H1575Z" fill="#2aa9e8"/>
<text x="1597" y="895" font-size="26" font-weight="bold" fill="#0f73cf" dominant-baseline="central" letter-spacing="1">帆软</text>
<text x="1557" y="918" font-size="8.5" fill="#999" dominant-baseline="central" letter-spacing="3">让数据成为生产力！</text>

<!-- bottom line -->
<rect x="0" y="941" width="1680" height="3" fill="#222"/>
</svg>
</body></html>
